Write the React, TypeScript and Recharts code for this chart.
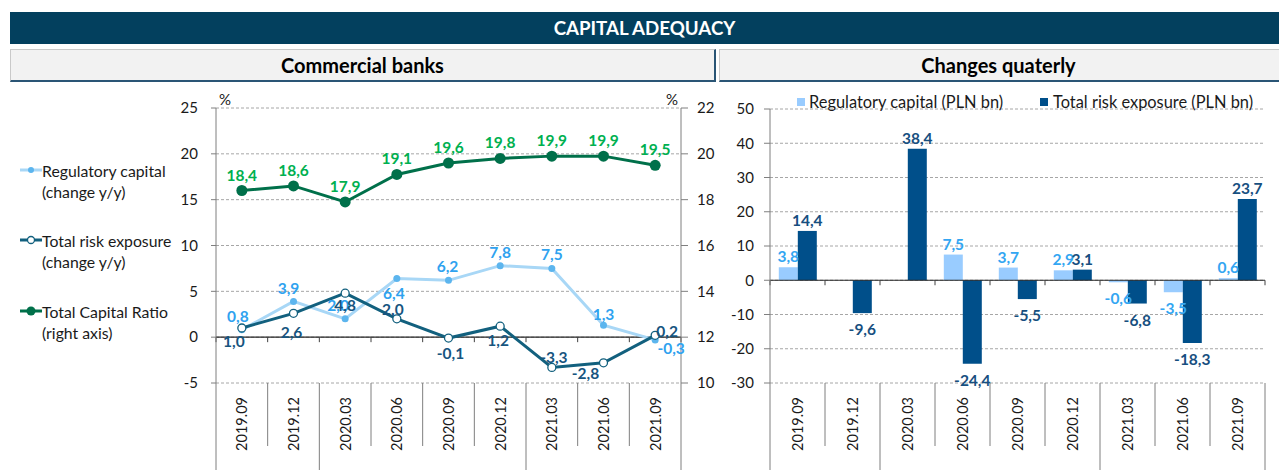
import React from 'react';
import {
  ComposedChart,
  BarChart,
  Line,
  Bar,
  XAxis,
  YAxis,
  CartesianGrid,
  ReferenceLine,
} from 'recharts';

// ---------- data ----------
const quarters = ['2019.09', '2019.12', '2020.03', '2020.06', '2020.09', '2020.12', '2021.03', '2021.06', '2021.09'];
const regCapitalYoY = [0.8, 3.9, 2.0, 6.4, 6.2, 7.8, 7.5, 1.3, -0.3];
const riskExposureYoY = [1.0, 2.6, 4.8, 2.0, -0.1, 1.2, -3.3, -2.8, 0.2];
const totalCapitalRatio = [18.4, 18.6, 17.9, 19.1, 19.6, 19.8, 19.9, 19.9, 19.5];
const regCapitalChange = [3.8, 0.0, 0.0, 7.5, 3.7, 2.9, -0.6, -3.5, 0.6];
const riskExposureChange = [14.4, -9.6, 38.4, -24.4, -5.5, 3.1, -6.8, -18.3, 23.7];

const leftTicks = [-5, 0, 5, 10, 15, 20, 25];
const rightTicks = [10, 12, 14, 16, 18, 20, 22];
const barTicks = [-30, -20, -10, 0, 10, 20, 30, 40, 50];
// indexes of the first quarter of each year group (2019, 2020, 2021)
const yearGroupStarts = [0, 2, 6];

// ---------- label placement (layout, not data) ----------
const regLabelOffsets: [number, number][] = [[-4, -14], [-5, -13], [-7, -14], [-3, 14], [-1, -14], [0, -14], [0, -14], [0, -11], [16, 8]];
const riskLabelOffsets: [number, number][] = [[-8, 13], [-2, 19], [0, 12], [-4, -10], [2, 15], [-2, 14], [2, -10], [-18, 10], [12, -4]];

const lineRows = quarters.map((q, i) => ({
  q,
  reg: regCapitalYoY[i],
  risk: riskExposureYoY[i],
  tcr: totalCapitalRatio[i],
}));
const barRows = quarters.map((q, i) => ({
  q,
  reg: regCapitalChange[i],
  risk: riskExposureChange[i],
}));

const FONT = "Lato, 'Noto Sans', 'DejaVu Sans', sans-serif";
const fmt = (v: number) => v.toFixed(1).replace('.', ',');

const C = {
  header: '#03405e',
  regLine: '#a8d7f6',
  regDot: '#5cb5ee',
  regLabel: '#2fa2ef',
  riskLine: '#12607e',
  riskLabel: '#17557f',
  tcrLine: '#00704a',
  tcrLabel: '#00b050',
  barLight: '#99ccff',
  barDark: '#004f8a',
  barLightLabel: '#33a6f2',
  barDarkLabel: '#174f80',
  axis: '#7f7f7f',
  grid: '#a6a6a6',
  text: '#1a1a1a',
};

function makeCategoryTick(count: number) {
  return (props: any) => {
    const { x, y, payload, index, width } = props;
    const bw = (width || 0) / count;
    const left = x - bw / 2;
    const right = x + bw / 2;
    const isYear = yearGroupStarts.includes(index);
    const ty = y + 14;
    return (
      <g>
        <line x1={left} x2={left} y1={y} y2={y + (isYear ? 100 : 63)} stroke={C.axis} strokeWidth={1} />
        {index === count - 1 && (
          <line x1={right} x2={right} y1={y} y2={y + 100} stroke={C.axis} strokeWidth={1} />
        )}
        <text
          x={x}
          y={ty}
          transform={`rotate(-90 ${x} ${ty})`}
          textAnchor="end"
          dominantBaseline="central"
          fontSize={14.5}
          fontFamily={FONT}
          fill={C.text}
        >
          {payload.value}
        </text>
      </g>
    );
  };
}

function makeZeroAxis(count: number) {
  return (p: any) => {
    const { x1, x2, y1 } = p;
    const step = (x2 - x1) / count;
    const ticks = [];
    for (let i = 0; i <= count; i++) {
      const tx = x1 + i * step;
      ticks.push(<line key={i} x1={tx} x2={tx} y1={y1} y2={y1 + 5} stroke="#404040" strokeWidth={1} />);
    }
    return (
      <g>
        <line x1={x1} x2={x2} y1={y1} y2={y1} stroke="#262626" strokeWidth={1.2} />
        {ticks}
      </g>
    );
  };
}

function offsetLabel(offsets: [number, number][], color: string) {
  return (props: any) => {
    const { x, y, value, index } = props;
    if (x == null || y == null) return null;
    const [dx, dy] = offsets[index] || [0, -14];
    return (
      <text
        x={x + dx}
        y={y + dy}
        textAnchor="middle"
        dominantBaseline="central"
        fontSize={15.5}
        fontWeight={700}
        fontFamily={FONT}
        fill={color}
      >
        {fmt(value)}
      </text>
    );
  };
}

function barLabel(color: string) {
  return (props: any) => {
    const { x, y, width, height, value } = props;
    if (x == null || y == null) return null;
    const top = Math.min(y, y + height);
    const bottom = Math.max(y, y + height);
    const cx = x + width / 2;
    const cy = value >= 0 ? top - 11 : bottom + 16;
    return (
      <text
        x={cx}
        y={cy}
        textAnchor="middle"
        dominantBaseline="central"
        fontSize={15.5}
        fontWeight={700}
        fontFamily={FONT}
        fill={color}
      >
        {fmt(value)}
      </text>
    );
  };
}

function LegendMarker({ line, dot }: { line: string; dot: React.ReactNode }) {
  return (
    <svg width={22} height={12} style={{ position: 'absolute', left: 20, top: 4 }}>
      <line x1={0} x2={22} y1={6} y2={6} stroke={line} strokeWidth={3} />
      {dot}
    </svg>
  );
}

function LeftLegendItem({ top, marker, lines }: { top: number; marker: React.ReactNode; lines: string[] }) {
  return (
    <div style={{ position: 'absolute', left: 0, top, width: 200, height: 44 }}>
      {marker}
      <div
        style={{
          position: 'absolute',
          left: 42,
          top: 0,
          fontFamily: FONT,
          fontSize: 15.8,
          lineHeight: '21px',
          color: C.text,
          whiteSpace: 'nowrap',
        }}
      >
        {lines.map((l) => (
          <div key={l}>{l}</div>
        ))}
      </div>
    </div>
  );
}

const boxStyle: React.CSSProperties = {
  position: 'absolute',
  top: 49,
  height: 33,
  boxSizing: 'border-box',
  background: '#f2f2f2',
  borderTop: '1px solid #c9c9c9',
  borderLeft: '1px solid #c9c9c9',
  borderRight: '2px solid #2a5575',
  borderBottom: '2px solid #2a5575',
  fontWeight: 700,
  fontSize: 20,
  lineHeight: '30px',
  textAlign: 'center',
  color: '#000',
};

export default function App() {
  const tickStyle = { fontSize: 15, fontFamily: FONT, fill: C.text };
  return (
    <div
      style={{
        position: 'absolute',
        left: 0,
        top: 0,
        width: 1279,
        height: 470,
        overflow: 'hidden',
        background: '#ffffff',
        fontFamily: FONT,
      }}
    >
      {/* Header */}
      <div
        style={{
          position: 'absolute',
          left: 10,
          top: 12,
          width: 1269,
          height: 32,
          background: C.header,
          color: '#fff',
          fontWeight: 700,
          fontSize: 18.7,
          lineHeight: '32px',
          textAlign: 'center',
        }}
      >
        CAPITAL ADEQUACY
      </div>
      <div style={{ ...boxStyle, left: 10, width: 706 }}>Commercial banks</div>
      <div style={{ ...boxStyle, left: 719, width: 562, paddingRight: 2 }}>Changes quaterly</div>

      {/* Left chart */}
      <div style={{ position: 'absolute', left: 0, top: 90, width: 716, height: 380 }}>
        <ComposedChart width={716} height={380} data={lineRows} margin={{ top: 18, right: 0, bottom: 0, left: 0 }}>
          <CartesianGrid yAxisId="left" vertical={false} stroke={C.grid} strokeDasharray="3 2" />
          <XAxis
            dataKey="q"
            scale="band"
            height={87}
            axisLine={false}
            tickLine={false}
            tickSize={0}
            tickMargin={0}
            interval={0}
            tick={makeCategoryTick(quarters.length)}
          />
          <YAxis
            yAxisId="left"
            width={216}
            domain={[-5, 25]}
            ticks={leftTicks}
            interval={0}
            axisLine={{ stroke: C.axis }}
            tickLine={{ stroke: C.axis }}
            tickSize={5}
            tickMargin={13}
            tick={tickStyle}
          />
          <YAxis
            yAxisId="right"
            orientation="right"
            width={35}
            domain={[10, 22]}
            ticks={rightTicks}
            interval={0}
            axisLine={{ stroke: C.axis }}
            tickLine={{ stroke: C.axis }}
            tickSize={7}
            tickMargin={9}
            tick={tickStyle}
          />
          <ReferenceLine yAxisId="left" y={0} shape={makeZeroAxis(quarters.length)} />
          <Line
            yAxisId="left"
            dataKey="reg"
            stroke={C.regLine}
            strokeWidth={3}
            dot={{ r: 3.5, fill: C.regDot, stroke: C.regDot, strokeWidth: 0 }}
            isAnimationActive={false}
            label={offsetLabel(regLabelOffsets, C.regLabel)}
          />
          <Line
            yAxisId="left"
            dataKey="risk"
            stroke={C.riskLine}
            strokeWidth={3}
            dot={{ r: 4, fill: '#ffffff', stroke: C.riskLine, strokeWidth: 1.3 }}
            isAnimationActive={false}
            label={offsetLabel(riskLabelOffsets, C.riskLabel)}
          />
          <Line
            yAxisId="right"
            dataKey="tcr"
            stroke={C.tcrLine}
            strokeWidth={3}
            dot={{ r: 5.5, fill: C.tcrLine, stroke: C.tcrLine, strokeWidth: 0 }}
            isAnimationActive={false}
            label={offsetLabel(quarters.map(() => [0, -16] as [number, number]), C.tcrLabel)}
          />
        </ComposedChart>
      </div>

      {/* % unit labels */}
      <div style={{ position: 'absolute', left: 219, top: 90, fontSize: 15, color: C.text }}>%</div>
      <div style={{ position: 'absolute', left: 666, top: 90, fontSize: 15, color: C.text }}>%</div>

      {/* Left legend */}
      <LeftLegendItem
        top={160}
        lines={['Regulatory capital', '(change y/y)']}
        marker={<LegendMarker line={C.regLine} dot={<circle cx={11} cy={6} r={3} fill={C.regDot} />} />}
      />
      <LeftLegendItem
        top={230}
        lines={['Total risk exposure', '(change y/y)']}
        marker={
          <LegendMarker
            line={C.riskLine}
            dot={<circle cx={11} cy={6} r={3.5} fill="#fff" stroke={C.riskLine} strokeWidth={1.3} />}
          />
        }
      />
      <LeftLegendItem
        top={301}
        lines={['Total Capital Ratio', '(right axis)']}
        marker={<LegendMarker line={C.tcrLine} dot={<circle cx={11} cy={6} r={4.5} fill={C.tcrLine} />} />}
      />

      {/* Right chart */}
      <div style={{ position: 'absolute', left: 719, top: 90, width: 560, height: 380 }}>
        <BarChart
          width={560}
          height={380}
          data={barRows}
          margin={{ top: 19, right: 14, bottom: 0, left: 0 }}
          barCategoryGap="16%"
          barGap={0}
        >
          <CartesianGrid vertical={false} stroke={C.grid} strokeDasharray="3 2" />
          <XAxis
            dataKey="q"
            height={87}
            axisLine={false}
            tickLine={false}
            tickSize={0}
            tickMargin={0}
            interval={0}
            tick={makeCategoryTick(quarters.length)}
          />
          <YAxis
            width={51}
            domain={[-30, 50]}
            ticks={barTicks}
            interval={0}
            axisLine={{ stroke: C.axis }}
            tickLine={{ stroke: C.axis }}
            tickSize={6}
            tickMargin={10}
            tick={tickStyle}
          />
          <Bar dataKey="reg" fill={C.barLight} isAnimationActive={false} label={barLabel(C.barLightLabel)} />
          <Bar dataKey="risk" fill={C.barDark} isAnimationActive={false} label={barLabel(C.barDarkLabel)} />
          <ReferenceLine y={0} shape={makeZeroAxis(quarters.length)} />
        </BarChart>
      </div>

      {/* Right legend */}
      <div style={{ position: 'absolute', left: 797, top: 98, width: 8, height: 8, background: C.barLight }} />
      <div style={{ position: 'absolute', left: 809, top: 91, fontSize: 16.4, lineHeight: '21px', color: C.text, whiteSpace: 'nowrap' }}>
        Regulatory capital (PLN bn)
      </div>
      <div style={{ position: 'absolute', left: 1040, top: 98, width: 8, height: 8, background: C.barDark }} />
      <div style={{ position: 'absolute', left: 1053, top: 91, fontSize: 16.4, lineHeight: '21px', color: C.text, whiteSpace: 'nowrap' }}>
        Total risk exposure (PLN bn)
      </div>
    </div>
  );
}
